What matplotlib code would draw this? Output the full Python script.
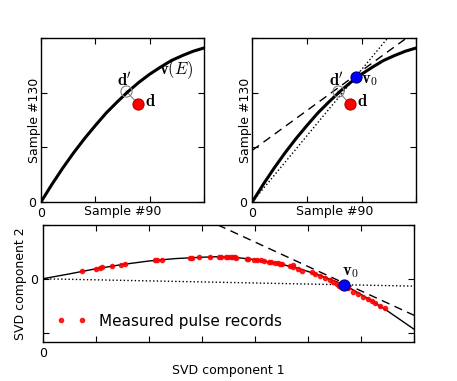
"""Pulse-record geometry: model curve v(E), projection d -> d', and the SVD view."""

import matplotlib

matplotlib.use("Agg")
import matplotlib.pyplot as plt

plt.rcParams.update(
    {"font.family": "DejaVu Sans", "font.size": 9, "mathtext.fontset": "cm",
     "axes.linewidth": 1.0, "xtick.direction": "in", "ytick.direction": "in",
     "xtick.top": True, "ytick.right": True,
     "xtick.major.size": 4, "ytick.major.size": 4}
)

# model curve v(E) in the (sample #90, sample #130) plane
curve_x = [0, 0.2, 0.4, 0.6, 0.8, 1.0, 1.2, 1.4, 1.6, 1.8, 2.0, 2.2, 2.4, 2.6, 2.8, 3.0]
curve_y = [0, 0.32, 0.62, 0.90, 1.16, 1.40, 1.63, 1.83, 2.02, 2.19, 2.34, 2.47, 2.59,
           2.68, 2.76, 2.82]

d_pt = (1.79, 1.79)        # measured record
dprime_pt = (1.565, 2.03)  # its projection on the curve
v0_pt = (1.896, 2.285)     # expansion point

tangent_x = [0.0, 2.82]    # dashed: tangent at v0
tangent_y = [0.945, 3.0]
ray_x = [0.0, 2.475]       # dotted: ray through v0
ray_y = [0.0, 3.0]

# SVD projection of the measured pulse records
svd_curve_x = [0, 0.5, 1.0, 1.5, 2.0, 2.5, 3.0, 3.3, 3.6, 4.0, 4.4, 4.8, 5.2, 5.68, 6.1, 6.5, 7.0]
svd_curve_y = [0, 0.09, 0.185, 0.265, 0.33, 0.375, 0.40, 0.41, 0.40, 0.355, 0.29, 0.20,
               0.07, -0.11, -0.35, -0.60, -0.94]
rec_x = [0.75, 1.00, 1.08, 1.11, 1.30, 1.47, 1.55, 2.12, 2.16, 2.24, 2.77, 2.82, 2.95,
         3.16, 3.33, 3.36, 3.45, 3.50, 3.54, 3.58, 3.62, 3.65, 3.84, 3.87, 3.99, 4.03,
         4.12, 4.17, 4.26, 4.31, 4.38, 4.43, 4.47, 4.51, 4.66, 4.71, 4.72, 4.81, 4.88,
         5.07, 5.13, 5.22, 5.32, 5.41, 5.47, 5.54, 5.58, 5.62, 5.76, 5.85, 5.94, 6.04,
         6.13, 6.20, 6.26, 6.35, 6.45]
rec_y = [0.14, 0.19, 0.20, 0.21, 0.24, 0.26, 0.27, 0.34, 0.34, 0.35, 0.39, 0.39, 0.40,
         0.40, 0.41, 0.41, 0.40, 0.40, 0.40, 0.40, 0.40, 0.39, 0.37, 0.37, 0.35, 0.35,
         0.34, 0.33, 0.31, 0.31, 0.30, 0.29, 0.28, 0.27, 0.24, 0.22, 0.25, 0.19, 0.14,
         0.12, 0.09, 0.06, 0.01, -0.03, -0.06, -0.09, -0.13, -0.12, -0.17, -0.24, -0.28,
         -0.34, -0.38, -0.42, -0.45, -0.50, -0.55]
svd_v0 = (5.674, -0.112)
svd_tangent_x = [3.3, 7.0]
svd_tangent_y = [1.0, -0.68]
svd_ray_x = [0.0, 7.0]
svd_ray_y = [0.0, -0.137]


def only_zero(ax, xt, yt):
    ax.set_xticks(xt)
    ax.set_xticklabels(["0" if t == 0 else "" for t in xt])
    ax.set_yticks(yt)
    ax.set_yticklabels(["0" if t == 0 else "" for t in yt])


def sample_panel(ax):
    ax.plot(curve_x, curve_y, color="black", lw=2.2, zorder=3,
            solid_joinstyle="round", solid_capstyle="round")
    ax.plot([d_pt[0], dprime_pt[0]], [d_pt[1], dprime_pt[1]], color="gray", lw=0.8, zorder=2)
    ax.plot(*dprime_pt, "o", ms=8, mfc="none", mec="gray", mew=0.8, zorder=4)
    ax.plot(*d_pt, "o", ms=8, mfc="red", mec="#aa0000", mew=0.8, zorder=5)
    ax.set_xlim(0, 3)
    ax.set_ylim(0, 3)
    only_zero(ax, [0, 1, 2, 3], [0, 1, 2, 3])
    ax.set_xlabel("Sample #90", labelpad=-11)
    ax.set_ylabel("Sample #130", labelpad=-9)


fig = plt.figure(figsize=(4.57, 3.81), dpi=100)
ax1 = fig.add_axes([0.0897, 0.470, 0.357, 0.430])
ax2 = fig.add_axes([0.552, 0.470, 0.359, 0.430])
ax3 = fig.add_axes([0.0934, 0.1016, 0.813, 0.308])

sample_panel(ax1)
ax1.text(dprime_pt[0] - 0.02, dprime_pt[1] + 0.18, r"$\mathbf{d}'$", fontsize=12,
         ha="center", va="center")
ax1.text(d_pt[0] + 0.12, d_pt[1] + 0.06, r"$\mathbf{d}$", fontsize=12, ha="left", va="center")
ax1.text(2.49, 2.43, r"$\mathbf{v}(E)$", fontsize=12, ha="center", va="center")

sample_panel(ax2)
ax2.plot(tangent_x, tangent_y, "k--", lw=1.0, dashes=(6, 4), zorder=2)
ax2.plot(ray_x, ray_y, "k:", lw=1.0, zorder=2)
ax2.plot(*v0_pt, "o", ms=8, mfc="blue", mec="#000088", mew=0.8, zorder=6)
ax2.text(dprime_pt[0] - 0.02, dprime_pt[1] + 0.18, r"$\mathbf{d}'$", fontsize=12,
         ha="center", va="center")
ax2.text(d_pt[0] + 0.12, d_pt[1] + 0.06, r"$\mathbf{d}$", fontsize=12, ha="left", va="center")
ax2.text(v0_pt[0] + 0.1, v0_pt[1] - 0.04, r"$\mathbf{v}_0$", fontsize=12, ha="left", va="center")

ax3.plot(svd_curve_x, svd_curve_y, color="black", lw=1.0, zorder=3, solid_joinstyle="round")
ax3.plot(svd_tangent_x, svd_tangent_y, "k--", lw=1.0, dashes=(6, 4), zorder=2)
ax3.plot(svd_ray_x, svd_ray_y, "k:", lw=1.0, zorder=2)
ax3.plot(rec_x, rec_y, "o", ms=3.0, color="red", mec="red", alpha=0.85, lw=0,
         label="Measured pulse records", zorder=4)
ax3.plot(*svd_v0, "o", ms=8, mfc="blue", mec="#000088", mew=0.8, zorder=6)
ax3.text(svd_v0[0] + 0.12, svd_v0[1] + 0.26, r"$\mathbf{v}_0$", fontsize=12,
         ha="center", va="center")
ax3.set_xlim(0, 7)
ax3.set_ylim(-1.18, 1.0)
only_zero(ax3, [0, 1, 2, 3, 4, 5, 6, 7], [-1, 0, 1])
ax3.set_xlabel("SVD component 1", labelpad=3)
ax3.set_ylabel("SVD component 2", labelpad=2)
ax3.legend(loc="lower left", numpoints=2, frameon=False, fontsize=11,
           handlelength=2.0, handletextpad=0.8, bbox_to_anchor=(0.0, 0.0))

fig.savefig("out.png", dpi=100)
